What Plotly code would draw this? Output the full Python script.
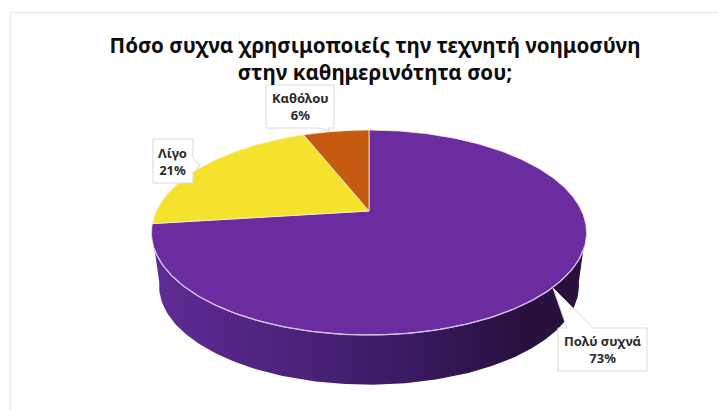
import numpy as np
import plotly.graph_objects as go

categories = ["Πολύ συχνά", "Λίγο", "Καθόλου"]
values = [73, 21, 6]
colors = ["#6A2C9E", "#F5E22C", "#C55A11"]
title_lines = ["Πόσο συχνα χρησιμοποιείς την τεχνητή νοημοσύνη", "στην καθημερινότητα σου;"]

# view of the tilted disc
CX, CY, A, B, K = 369.0, 211.0, 212.7, 98.0, 0.2098
SHRINK, DROP = 0.965, 54.0
FONT = "Noto Sans"


def top(theta_deg):
    t = np.radians(theta_deg)
    u, v = np.sin(t), np.cos(t)
    d = 1 + K * v
    return CX + A * u / d, CY - B * v / d


def bottom(theta_deg):
    x, y = top(theta_deg)
    return CX + (x - CX) * SHRINK, CY + (y - CY) * SHRINK + DROP


fig = go.Figure()

# faint frame of the chart area, top and left edges
for x0, y0, x1, y1 in [(10.5, 12.5, 718, 12.5), (10.5, 12.5, 10.5, 410)]:
    fig.add_shape(type="line", x0=x0, y0=y0, x1=x1, y1=y1, xref="x", yref="y",
                  line=dict(color="#EDEDED", width=1.5), layer="below")

# side wall of the visible front
th = np.linspace(100, 260, 161)
xt, yt = top(th)
xb, yb = bottom(th)
fig.add_trace(go.Scatter(
    x=np.r_[xt, xb[::-1]], y=np.r_[yt, yb[::-1]], mode="lines", fill="toself",
    line=dict(width=0, color="#2A1245"),
    fillgradient=dict(type="horizontal", colorscale=[
        [0, "#5E2C95"], [0.35, "#4A2278"], [0.6, "#3A1A60"], [0.85, "#28103F"], [1, "#28103F"]]),
    hoverinfo="skip", showlegend=False))

# top face, one wedge per value
total = sum(values)
start = 0.0
for cat, val, col in zip(categories, values, colors):
    end = start + 360.0 * val / total
    th = np.linspace(start, end, max(int(end - start) * 2, 8))
    x, y = top(th)
    fig.add_trace(go.Scatter(
        x=np.r_[CX, x, CX], y=np.r_[CY, y, CY], mode="lines", fill="toself",
        fillcolor=col, line=dict(color="#FBEFD8", width=0.8), name=cat,
        hoverinfo="skip", showlegend=False))
    start = end

# pale rim along the front edge of the top face
th = np.linspace(111, 249, 140)
x, y = top(th)
fig.add_trace(go.Scatter(x=x, y=y, mode="lines", line=dict(color="#D9BDE8", width=1.3),
                         hoverinfo="skip", showlegend=False))

# callouts: box corners then pointer tip and its base
BOX = "#D9D9D9"


def callout(x0, y0, x1, y1, tip, base_a, base_b, side):
    if side == "top":
        pts = [(x0, y0), base_a, tip, base_b, (x1, y0), (x1, y1), (x0, y1)]
    elif side == "right":
        pts = [(x0, y0), (x1, y0), base_a, tip, base_b, (x1, y1), (x0, y1)]
    else:  # bottom
        pts = [(x0, y0), (x1, y0), (x1, y1), base_b, tip, base_a, (x0, y1)]
    path = "M " + " L ".join(f"{a},{b}" for a, b in pts) + " Z"
    fig.add_shape(type="path", path=path, xref="x", yref="y", fillcolor="white",
                  line=dict(color=BOX, width=1), layer="above")


callout(558, 328, 647, 371, (553, 288), (567, 328), (593, 328), "top")
callout(153, 139, 193, 183, (200, 166), (193, 158), (193, 172), "right")
callout(266, 85, 334, 128, (330, 131), (318, 128), (328, 128), "bottom")

positions = {"Πολύ συχνά": (602.5, 349.5), "Λίγο": (172, 161), "Καθόλου": (300, 106.5)}
for cat, val in zip(categories, values):
    px, py = positions[cat]
    fig.add_annotation(x=px, y=py, xref="x", yref="y", showarrow=False,
                       text=f"<b>{cat}<br>{val}%</b>", align="center",
                       font=dict(family=FONT, size=13, color="#2B2B2B"))

fig.update_layout(
    width=718, height=410, margin=dict(l=0, r=0, t=0, b=0),
    paper_bgcolor="white", plot_bgcolor="white",
    title=dict(text="<b>" + "<br>".join(title_lines) + "</b>", x=375 / 718, xanchor="center",
               y=1 - 53 / 410, yanchor="middle",
               font=dict(family=FONT, size=20.6, color="#0D0D0D")),
    xaxis=dict(range=[0, 718], visible=False, fixedrange=True),
    yaxis=dict(range=[410, 0], visible=False, fixedrange=True),
)

fig.write_html("out.html", config={"displayModeBar": False},
               post_script="document.body.style.margin='0';document.body.style.overflow='hidden';")
